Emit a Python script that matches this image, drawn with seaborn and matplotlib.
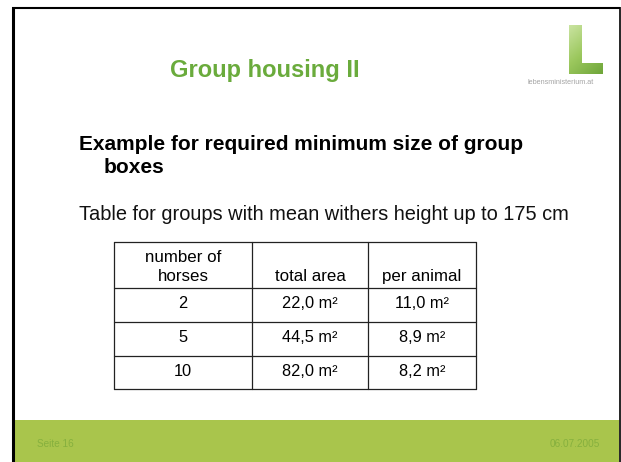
import matplotlib
matplotlib.use("Agg")
import numpy as np
import matplotlib.pyplot as plt
import seaborn as sns
from matplotlib.patches import Rectangle, Polygon
from matplotlib.colors import LinearSegmentedColormap

# slide texts
title = "Group housing II"
heading = ["Example for required minimum size of group", "boxes"]
subtitle = "Table for groups with mean withers height up to 175 cm"
footer_left = "Seite 16"
footer_right = "06.07.2005"
logo_text = "lebensministerium.at"

# table data
header = [["number of", "horses"], ["", "total area"], ["", "per animal"]]
horses = [2, 5, 10]
total_area = [22.0, 44.5, 82.0]
per_animal = [11.0, 8.9, 8.2]


def fmt_area(v):
    return f"{v:.1f}".replace(".", ",") + " m²"


sns.set_theme(style="white")
plt.rcParams['font.family'] = ['Liberation Sans', 'DejaVu Sans']

W, H = 621, 462
fig = plt.figure(figsize=(W / 100, H / 100), dpi=100)
ax = fig.add_axes([0, 0, 1, 1])
ax.set_xlim(0, W)
ax.set_ylim(H, 0)
ax.axis('off')

green_title = '#6AAB3C'
green_band = '#A9C54C'
green_foot = '#86B03E'

# slide frame
ax.add_patch(Rectangle((12, 420), 607, 42, color=green_band, lw=0))
ax.plot([12.5, 12.5], [7, H], color='black', lw=2.2, solid_capstyle='butt')
ax.plot([11.5, 620], [8, 8], color='black', lw=1.5, solid_capstyle='butt')
ax.plot([619.8, 619.8], [7, H], color='black', lw=1.2, solid_capstyle='butt')

# logo: green "L" with a soft gradient
logo_cmap = LinearSegmentedColormap.from_list('leaf', ['#C9E3A0', '#9CC85E', '#6FA63A'])
shade = np.add.outer(np.linspace(0, 1, 40), np.linspace(0, 0.6, 30))
img = ax.imshow(shade, cmap=logo_cmap, extent=(569, 603, 74, 25), aspect='auto',
                interpolation='bilinear', zorder=2)
l_shape = Polygon([(569, 25), (582, 25), (582, 63), (603, 63), (603, 74), (569, 74)],
                  closed=True, transform=ax.transData, fc='none', lw=0)
ax.add_patch(l_shape)
img.set_clip_path(l_shape)
ax.text(594, 83, logo_text, fontsize=5.2, color='#A5A5A5', ha='right', va='center')

# title and body texts
ax.text(265, 77, title, fontsize=17, fontweight='bold', color=green_title,
        ha='center', va='baseline')
ax.text(79, 150, heading[0], fontsize=15, fontweight='bold', color='black',
        ha='left', va='baseline')
ax.text(104, 173, heading[1], fontsize=15, fontweight='bold', color='black',
        ha='left', va='baseline')
ax.text(79, 220, subtitle, fontsize=14.4, color='#111111', ha='left', va='baseline')

# table
col_edges = [114, 252, 368, 476]
row_edges = [242, 288, 322, 355.5, 389]
line_kw = dict(color='#222222', lw=0.9)
for y in row_edges:
    ax.plot([col_edges[0], col_edges[-1]], [y, y], **line_kw)
for x in col_edges:
    ax.plot([x, x], [row_edges[0], row_edges[-1]], **line_kw)

centers = [(col_edges[i] + col_edges[i + 1]) / 2 for i in range(3)]
for cx, (l1, l2) in zip(centers, header):
    if l1:
        ax.text(cx, 262, l1, fontsize=12.2, ha='center', va='baseline', color='black')
    ax.text(cx, 281, l2, fontsize=12.2, ha='center', va='baseline', color='black')

rows = zip(horses, total_area, per_animal)
for i, (n, a, p) in enumerate(rows):
    cy = (row_edges[i + 1] + row_edges[i + 2]) / 2
    vals = [str(n), fmt_area(a), fmt_area(p)]
    for cx, v in zip(centers, vals):
        ax.text(cx, cy + 3.5, v, fontsize=11.8, ha='center', va='baseline', color='black')

# footer
ax.text(37, 444, footer_left, fontsize=7.2, color=green_foot, ha='left', va='center')
ax.text(600, 444, footer_right, fontsize=7.2, color=green_foot, ha='right', va='center')

fig.savefig('out.png', dpi=100)
